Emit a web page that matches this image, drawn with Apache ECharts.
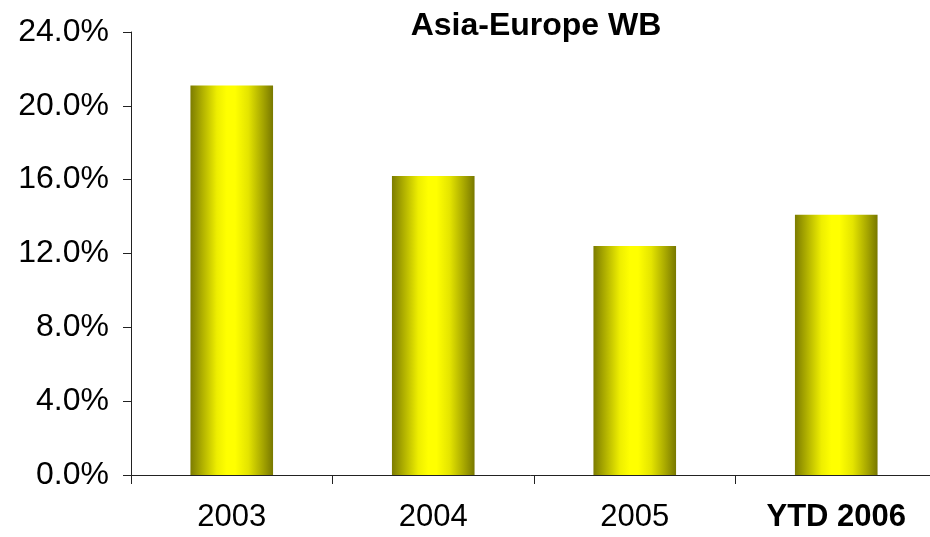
<!DOCTYPE html>
<html>
<head>
<meta charset="utf-8">
<script src="https://cdn.jsdelivr.net/npm/echarts@6/dist/echarts.min.js"></script>
<style>
  html, body { margin: 0; padding: 0; background: #fff; }
  #chart { width: 930px; height: 537px; }
</style>
</head>
<body>
<div id="chart"></div>
<script>
// Yearly values (percent)
const categories = ['2003', '2004', '2005', 'YTD 2006'];
const values = [21.1, 16.2, 12.4, 14.1];
const yMin = 0;
const yMax = 24;
const yStep = 4;

// Horizontal olive-to-yellow shading across each bar
const barFill = new echarts.graphic.LinearGradient(0, 0, 1, 0, [
  { offset: 0, color: '#7c7c00' },
  { offset: 0.15, color: '#b2b200' },
  { offset: 0.32, color: '#eeee00' },
  { offset: 0.44, color: '#ffff00' },
  { offset: 0.54, color: '#ffff00' },
  { offset: 0.7, color: '#e4e400' },
  { offset: 0.87, color: '#a8a800' },
  { offset: 1, color: '#787800' }
]);

const FONT = 'Liberation Sans, Arial, sans-serif';

const chart = echarts.init(document.getElementById('chart'));
chart.setOption({
  animation: false,
  backgroundColor: '#ffffff',
  title: {
    text: 'Asia-Europe WB',
    left: 531,
    textAlign: 'center',
    top: 5,
    textStyle: { fontFamily: FONT, fontWeight: 'bold', fontSize: 32, color: '#000' }
  },
  // plot runs slightly past the right edge of the canvas
  grid: { left: 131, width: 806, top: 32, bottom: 62, containLabel: false, outerBoundsMode: 'none' },
  xAxis: {
    type: 'category',
    data: categories,
    axisLine: { show: true, lineStyle: { color: '#222', width: 1 } },
    axisTick: { show: true, interval: 0, alignWithLabel: false, length: 9, lineStyle: { color: '#222' } },
    axisLabel: {
      interval: 0,
      margin: 27,
      fontFamily: FONT,
      fontSize: 31,
      color: '#000',
      formatter: function (v) { return v.indexOf('YTD') === 0 ? '{b|' + v + '}' : v; },
      rich: { b: { fontWeight: 'bold', fontSize: 31, fontFamily: FONT, color: '#000' } }
    }
  },
  yAxis: {
    type: 'value',
    min: yMin,
    max: yMax,
    interval: yStep,
    axisLine: { show: true, lineStyle: { color: '#222', width: 1 } },
    axisTick: { show: true, length: 8, lineStyle: { color: '#222' } },
    splitLine: { show: false },
    axisLabel: {
      margin: 22,
      fontFamily: FONT,
      fontSize: 32,
      color: '#000',
      formatter: function (v) { return v.toFixed(1) + '%'; }
    }
  },
  series: [{
    type: 'bar',
    data: values,
    barWidth: '41%',
    itemStyle: { color: barFill }
  }]
});
</script>
</body>
</html>
